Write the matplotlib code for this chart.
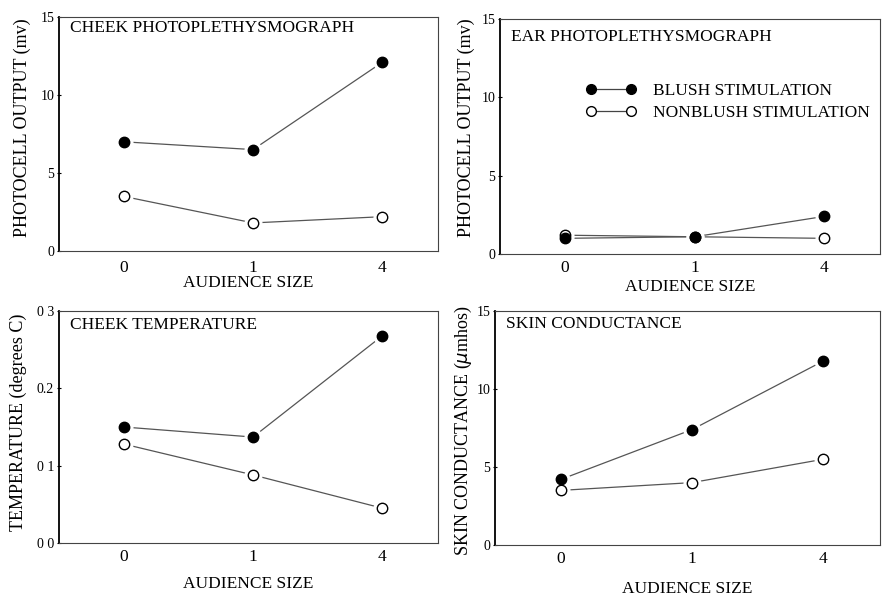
import matplotlib
matplotlib.use("Agg")
import matplotlib.pyplot as plt
from matplotlib.lines import Line2D

plt.rcParams['font.family'] = ['Liberation Serif', 'DejaVu Serif']

audience = ["0", "1", "4"]

cheek_photo_blush = [7.0, 6.5, 12.1]
cheek_photo_nonblush = [3.5, 1.8, 2.2]
ear_photo_blush = [1.0, 1.1, 2.4]
ear_photo_nonblush = [1.2, 1.1, 1.0]
cheek_temp_blush = [0.150, 0.137, 0.268]
cheek_temp_nonblush = [0.128, 0.088, 0.045]
skin_blush = [4.2, 7.4, 11.8]
skin_nonblush = [3.5, 4.0, 5.5]

W, H = 882, 597

panels = [
    dict(title="CHEEK PHOTOPLETHYSMOGRAPH", ylabel="PHOTOCELL OUTPUT (mv)",
         blush=cheek_photo_blush, non=cheek_photo_nonblush,
         yticks=[0, 5, 10, 15], yticklabels=["0", "5", "10", "15"], ylim=(0, 15),
         box=(59, 17, 438, 251), title_dy=11, tick_dy=17, xlab_dy=32, ylab_xy=(22, 128)),
    dict(title="EAR PHOTOPLETHYSMOGRAPH", ylabel="PHOTOCELL OUTPUT (mv)",
         blush=ear_photo_blush, non=ear_photo_nonblush,
         yticks=[0, 5, 10, 15], yticklabels=["0", "5", "10", "15"], ylim=(0, 15),
         box=(500, 19, 880, 254), title_dy=18, tick_dy=14, xlab_dy=33, ylab_xy=(466, 128)),
    dict(title="CHEEK TEMPERATURE", ylabel="TEMPERATURE (degrees C)",
         blush=cheek_temp_blush, non=cheek_temp_nonblush,
         yticks=[0, 0.1, 0.2, 0.3], yticklabels=["0 0", "0 1", "0.2", "0 3"], ylim=(0, 0.3),
         box=(59, 311, 438, 543), title_dy=14, tick_dy=14, xlab_dy=41, ylab_xy=(18, 422)),
    dict(title="SKIN CONDUCTANCE", ylabel="SKIN CONDUCTANCE ($\\mu$mhos)",
         blush=skin_blush, non=skin_nonblush,
         yticks=[0, 5, 10, 15], yticklabels=["0", "5", "10", "15"], ylim=(0, 15),
         box=(495, 311, 880, 545), title_dy=13, tick_dy=14, xlab_dy=44, ylab_xy=(463, 431)),
]

fig = plt.figure(figsize=(W / 100, H / 100), dpi=100)
x = list(range(len(audience)))
line_col = "#555555"

for i, p in enumerate(panels):
    l, t, r, b = p["box"]
    ax = fig.add_axes([l / W, 1 - b / H, (r - l) / W, (b - t) / H])
    hpx = b - t
    ax.plot(x, p["non"], color=line_col, lw=0.9, zorder=1)
    ax.plot(x, p["blush"], color=line_col, lw=0.9, zorder=1)
    ax.plot(x, p["non"], ls="none", marker="o", ms=12, mfc="white", mec="white", zorder=2)
    ax.plot(x, p["blush"], ls="none", marker="o", ms=12, mfc="white", mec="white", zorder=2)
    ax.plot(x, p["non"], ls="none", marker="o", ms=7.5, mfc="white", mec="black", mew=1.0, zorder=3)
    ax.plot(x, p["blush"], ls="none", marker="o", ms=7.5, mfc="black", mec="black", zorder=4)
    ax.set_xlim(-0.5, 2.43)
    ax.set_ylim(*p["ylim"])
    ax.set_xticks(x)
    ax.set_xticklabels(audience, fontsize=12.5)
    for lab in ax.get_xticklabels():
        lab.set_verticalalignment("center")
    ax.tick_params(axis="x", length=0, pad=p["tick_dy"] * 0.72)
    ax.set_yticks(p["yticks"])
    ax.set_yticklabels(p["yticklabels"], fontsize=10)
    ax.tick_params(axis="y", length=3, direction="inout", pad=2, width=0.8)
    ax.text(0.5, -p["xlab_dy"] / hpx, "AUDIENCE SIZE", transform=ax.transAxes,
            ha="center", va="center", fontsize=12.5)
    fig.text(p["ylab_xy"][0] / W, 1 - p["ylab_xy"][1] / H, p["ylabel"], rotation=90,
             ha="center", va="center", fontsize=13)
    for s in ["top", "right", "bottom"]:
        ax.spines[s].set_color("#444444")
        ax.spines[s].set_linewidth(0.8)
    ax.spines["left"].set_color("black")
    ax.spines["left"].set_linewidth(1.3)
    ax.text(0.028, 1 - p["title_dy"] / hpx, p["title"], transform=ax.transAxes,
            ha="left", va="center", fontsize=12.5)
    if i == 1:
        handles = [
            Line2D([0], [0], color="#444444", lw=0.9, marker="o", ms=7, mfc="black", mec="black"),
            Line2D([0], [0], color="#444444", lw=0.9, marker="o", ms=7, mfc="white", mec="black"),
        ]
        ax.legend(handles, ["BLUSH STIMULATION", "NONBLUSH STIMULATION"],
                  loc="upper left", bbox_to_anchor=(0.184, 0.793), frameon=False, numpoints=2,
                  fontsize=12.5, handlelength=2.9, handletextpad=1.0, labelspacing=0.3)

fig.savefig("out.png", dpi=100)
